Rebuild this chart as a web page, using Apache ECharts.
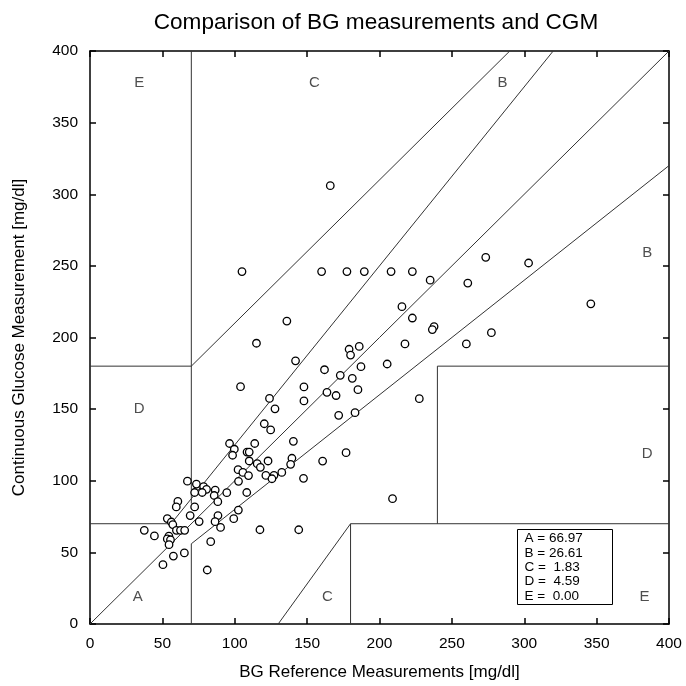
<!DOCTYPE html>
<html>
<head>
<meta charset="utf-8">
<script src="https://cdn.jsdelivr.net/npm/echarts@6/dist/echarts.min.js"></script>
<style>
html,body{margin:0;padding:0;background:#fff;}
#chart{width:686px;height:686px;}
</style>
</head>
<body>
<div id="chart"></div>
<script>
const titleText = 'Comparison of BG measurements and CGM';
const xAxisName = 'BG Reference Measurements [mg/dl]';
const yAxisName = 'Continuous Glucose Measurement [mg/dl]';

// Paired readings [BG reference, CGM]
const bgReference = [
  166, 105, 160, 177.5, 189.5, 208, 222.7, 136, 273.4, 303,
  235, 261, 215.5, 222.7, 237.7, 236.5, 277.3, 217.6, 260, 205.3,
  227.5, 346, 209, 115, 142, 179, 186, 180, 162, 187.2,
  172.9, 181.2, 147.8, 163.7, 170, 185.1, 124, 147.8, 127.8, 120.4,
  124.8, 171.8, 183.1, 113.8, 140.5, 176.9, 123, 139.5, 138.6, 160.7,
  115.5, 117.7, 121.5, 127.1, 125.7, 132.5, 147.5, 117.4, 144.2, 104,
  96.4, 99.7, 98.5, 108.5, 110, 110, 102.3, 105.6, 109.5, 67.3,
  73.5, 78.5, 80.5, 77.5, 72.3, 86.5, 85.8, 88.3, 94.5, 102.6,
  108.3, 102.5, 99.3, 72.3, 69.2, 75.4, 88.4, 86.4, 90.2, 60.7,
  59.6, 53.4, 56.2, 57.2, 59.7, 62.5, 65.4, 37.5, 44.5, 54.5,
  53.4, 55.6, 54.6, 57.6, 65.2, 50.4, 81, 83.4
];
const cgmValues = [
  306, 246, 246, 246, 246, 246, 246, 211.5, 256, 252,
  240, 238, 221.5, 213.6, 207.6, 205.5, 203.4, 195.5, 195.5, 181.5,
  157.3, 223.5, 87.5, 196, 183.7, 191.8, 193.8, 187.7, 177.5, 179.6,
  173.6, 171.5, 165.5, 161.7, 159.5, 163.6, 157.5, 155.7, 150.2, 139.8,
  135.5, 145.7, 147.5, 126, 127.5, 119.6, 113.8, 115.7, 111.5, 113.7,
  111.9, 109.4, 103.7, 103.8, 101.4, 105.8, 101.7, 65.8, 65.8, 165.7,
  126, 122, 117.8, 120, 120, 113.8, 107.7, 105.8, 103.6, 99.7,
  97.7, 95.9, 94, 91.8, 91.8, 93.5, 89.7, 85.4, 91.7, 99.6,
  91.8, 79.5, 73.5, 81.7, 75.7, 71.5, 75.7, 71.4, 67.4, 85.6,
  81.7, 73.6, 71.2, 69.4, 65.4, 65.4, 65.4, 65.4, 61.5, 61.4,
  59.4, 58.8, 55.4, 47.4, 49.6, 41.4, 37.7, 57.5
];

// Clarke error grid zone boundaries (segments in mg/dl)
const zoneBoundaries = [
  [[0, 0], [400, 400]],
  [[0, 70], [56, 70]],
  [[56, 70], [320, 400]],
  [[70, 84], [70, 400]],
  [[0, 180], [70, 180]],
  [[70, 180], [290, 400]],
  [[70, 0], [70, 56]],
  [[70, 56], [400, 320]],
  [[180, 0], [180, 70]],
  [[180, 70], [400, 70]],
  [[240, 70], [240, 180]],
  [[240, 180], [400, 180]],
  [[130, 0], [180, 70]]
];

// Zone letters and where they sit
const zoneNames = ['E', 'C', 'B', 'B', 'D', 'D', 'A', 'C', 'E'];
const zoneNameX = [34, 155, 285, 385, 34, 385, 33, 164, 383];
const zoneNameY = [378, 378, 378, 259, 150, 119, 19, 19, 19];

// Zone percentages
const statZones = ['A', 'B', 'C', 'D', 'E'];
const statValues = ['66.97', '26.61', ' 1.83', ' 4.59', ' 0.00'];

const tickValues = [0, 50, 100, 150, 200, 250, 300, 350, 400];

const FONT = '"Liberation Sans", Arial, Helvetica, sans-serif';
const chart = echarts.init(document.getElementById('chart'), null, {renderer: 'canvas'});

const points = bgReference.map((x, i) => [x, cgmValues[i]]);

const series = [];
zoneBoundaries.forEach(seg => {
  series.push({
    type: 'line',
    data: seg,
    showSymbol: false,
    symbol: 'none',
    silent: true,
    lineStyle: {color: '#333', width: 1},
    z: 2
  });
});
series.push({
  type: 'scatter',
  data: points,
  symbol: 'circle',
  symbolSize: 7.5,
  itemStyle: {color: '#fff', borderColor: '#000', borderWidth: 1.3, opacity: 1},
  z: 5
});
series.push({
  type: 'scatter',
  data: zoneNames.map((n, i) => ({name: n, value: [zoneNameX[i], zoneNameY[i]]})),
  symbolSize: 0,
  silent: true,
  label: {
    show: true,
    position: 'inside',
    formatter: p => p.name,
    fontFamily: FONT,
    fontSize: 15,
    color: '#222'
  },
  z: 4
});

const axisCommon = {
  type: 'value',
  min: 0,
  max: 400,
  interval: 50,
  splitLine: {show: false},
  axisLine: {show: true, onZero: false, lineStyle: {color: '#000', width: 1.5}},
  axisTick: {show: true, inside: true, length: 6, lineStyle: {color: '#000', width: 1.5}}
};

const option = {
  animation: false,
  backgroundColor: '#fff',
  title: {
    text: titleText,
    left: 371,
    textAlign: 'center',
    top: 6,
    textStyle: {fontFamily: FONT, fontSize: 22.6, fontWeight: 'normal', color: '#000'}
  },
  grid: {left: 90, right: 17, top: 51, bottom: 62},
  xAxis: [
    Object.assign({}, axisCommon, {
      position: 'bottom',
      name: xAxisName,
      nameLocation: 'middle',
      nameGap: 40,
      nameTextStyle: {fontFamily: FONT, fontSize: 17, color: '#000'},
      axisLabel: {fontFamily: FONT, fontSize: 15.5, color: '#000', margin: 12,
        formatter: v => tickValues.indexOf(v) >= 0 ? String(v) : ''}
    }),
    Object.assign({}, axisCommon, {position: 'top', axisLabel: {show: false}})
  ],
  yAxis: [
    Object.assign({}, axisCommon, {
      position: 'left',
      name: yAxisName,
      nameLocation: 'middle',
      nameGap: 62,
      nameTextStyle: {fontFamily: FONT, fontSize: 17, color: '#000'},
      axisLabel: {fontFamily: FONT, fontSize: 15.5, color: '#000', margin: 12,
        formatter: v => tickValues.indexOf(v) >= 0 ? String(v) : ''}
    }),
    Object.assign({}, axisCommon, {position: 'right', axisLabel: {show: false}})
  ],
  series: series,
  graphic: [{
    type: 'group',
    left: 517,
    top: 529,
    children: [
      {type: 'rect', shape: {x: 0, y: 0, width: 95, height: 75},
       style: {fill: '#fff', stroke: '#000', lineWidth: 1}, z: 10},
      {type: 'text', x: 7, y: 2, z: 11,
       style: {
         text: statZones.map((z, i) => z + ' = ' + statValues[i]).join('\n'),
         font: '13.5px ' + FONT,
         lineHeight: 14.3,
         fill: '#000'
       }}
    ]
  }]
};
chart.setOption(option);
</script>
</body>
</html>
